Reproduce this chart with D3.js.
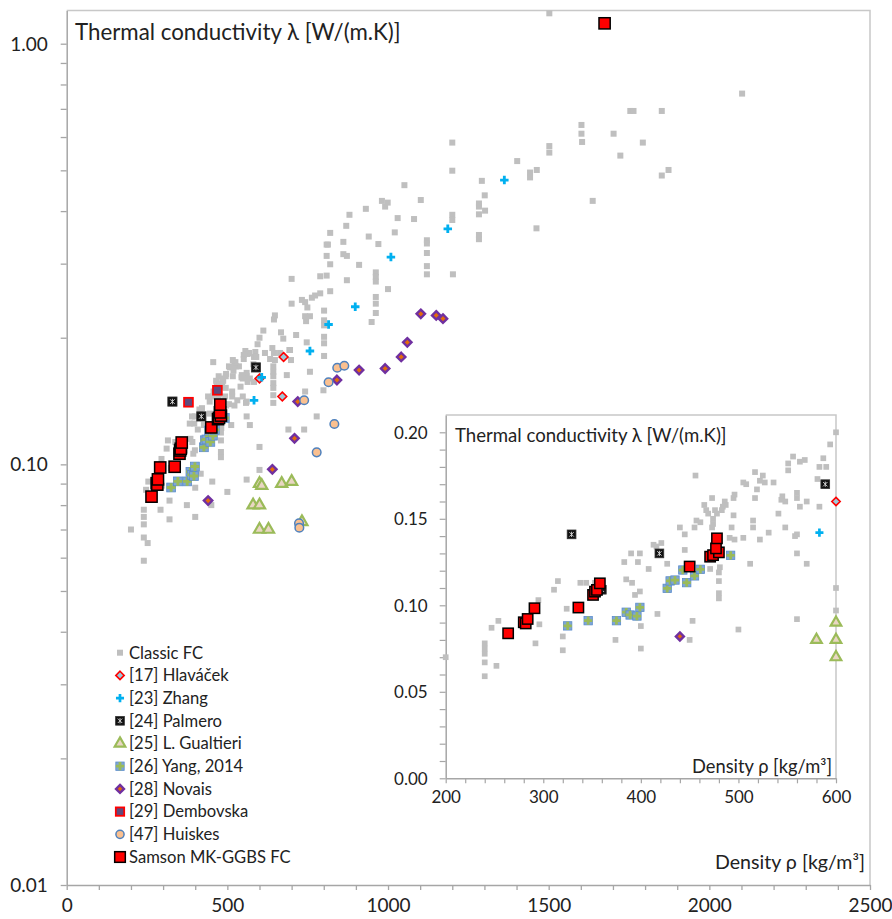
<!DOCTYPE html>
<html><head><meta charset="utf-8">
<script src="https://cdn.jsdelivr.net/npm/d3@7/dist/d3.min.js"></script>
<style>
html,body{margin:0;padding:0;background:#fff;}
svg{display:block;font-family:Lato,"Open Sans",sans-serif;}
</style></head>
<body>
<script>
// ---------------- DATA ----------------
const classicFC = [
[600,0.200],[594,0.193],[587,0.185],[583,0.180],[590,0.180],[581,0.173],[583,0.157],[570,0.160],[560,0.165],[560,0.162],
[563,0.157],[568,0.184],[563,0.183],[556,0.186],[551,0.182],[551,0.178],[545,0.163],[544,0.161],[548,0.160],[541,0.153],
[536,0.171],[527,0.171],[522,0.172],[525,0.175],[517,0.177],[505,0.171],[508,0.170],[456,0.175],[519,0.167],[517,0.162],
[495,0.162],[496,0.164],[486,0.160],[487,0.158],[483,0.155],[484,0.157],[495,0.152],[473,0.162],[465,0.158],[467,0.155],
[469,0.153],[474,0.150],[476,0.155],[478,0.153],[457,0.149],[461,0.148],[493,0.145],[505,0.139],[473,0.145],[474,0.147],
[455,0.145],[440,0.145],[445,0.141],[445,0.132],[491,0.139],[496,0.138],[548,0.145],[558,0.140],[560,0.141],[560,0.130],
[570,0.124],[512,0.124],[522,0.138],[531,0.142],[515,0.149],[515,0.145],[421,0.136],[413,0.135],[416,0.134],[390,0.130],
[399,0.130],[383,0.125],[397,0.125],[408,0.121],[427,0.124],[471,0.121],[481,0.122],[480,0.119],[480,0.114],[480,0.107],
[480,0.104],[385,0.115],[391,0.113],[338,0.113],[344,0.113],[353,0.113],[315,0.114],[311,0.109],[295,0.103],[324,0.098],
[394,0.106],[399,0.108],[417,0.095],[400,0.088],[453,0.091],[374,0.080],[400,0.075],[450,0.080],[320,0.082],[320,0.074],
[292,0.078],[296,0.089],[254,0.091],[247,0.087],[240,0.078],[240,0.075],[240,0.072],[240,0.067],[240,0.059],[252,0.065],
[200,0.070],[600,0.110],[600,0.097],[560,0.092],[500,0.086],
[612,0.208],[640,0.189],[645,0.184],[693,0.187],[617,0.184],[633,0.178],[664,0.184],[695,0.187],[698,0.177],[648,0.177],
[643,0.171],[643,0.166],[643,0.162],[643,0.156],[643,0.152],[643,0.146],[643,0.140],[685,0.163],[757,0.166],[742,0.149],
[799,0.150],[778,0.130],[690,0.121],[739,0.121],
[648,0.226],[645,0.221],[667,0.206],[674,0.199],[714,0.203],[742,0.225],[757,0.225],[745,0.219],[747,0.195],[801,0.232],
[801,0.220],[801,0.214],[801,0.201],[801,0.194],[801,0.181],[749,0.236],[949,0.218],
[700,0.276],[700,0.241],[732,0.246],[742,0.243],[763,0.249],[773,0.252],[789,0.255],[820,0.258],[789,0.280],[809,0.281],
[872,0.274],[820,0.299],[910,0.298],[809,0.313],[861,0.316],[872,0.313],[809,0.333],[813,0.333],[861,0.338],[970,0.334],
[940,0.348],[820,0.355],[1021,0.356],[870,0.369],[880,0.392],[931,0.405],[981,0.423],[999,0.419],[991,0.410],[1030,0.385],
[1081,0.383],[1102,0.425],[1051,0.461],
[1121,0.341],[1121,0.335],[1121,0.318],[1121,0.296],[1121,0.283],[962,0.286],[962,0.279],[962,0.272],[962,0.250],[962,0.241],
[962,0.229],[1000,0.261],
[1200,0.582],[1200,0.499],[1200,0.392],[1200,0.381],[1202,0.283],[1283,0.417],[1283,0.410],[1302,0.401],[1283,0.393],[1301,0.436],
[1292,0.472],[1283,0.351],[1283,0.343],
[1402,0.526],[1442,0.494],[1442,0.481],[1463,0.501],[1462,0.364],[1502,0.571],[1502,0.551],[1502,1.181],[1602,0.641],[1602,0.611],
[1604,0.584],[1637,0.423],[1702,0.611],[1723,0.542],[1754,0.692],[1764,0.692],[1793,0.582],[1852,0.692],[1852,0.486],[1873,0.501],
[2102,0.761]
];
const hlavacek = [[600,0.160],[671,0.145],[675,0.180]];
const zhang = [[583,0.142],[607,0.161],[757,0.186],[815,0.215],[898,0.237],[1009,0.311],[1186,0.363],[1362,0.474]];
const palmero = [[329,0.141],[360,0.109],[419,0.130],[589,0.170]];
const gualtieri = [[580,0.080],[600,0.080],[600,0.090],[607,0.089],[600,0.070],[628,0.070],[669,0.090],[700,0.091],[732,0.073]];
const yang2014 = [[325,0.0881],[346,0.0911],[375,0.0911],[385,0.0960],[389,0.0944],[396,0.0938],[399,0.0988],
  [427,0.1098],[430,0.1141],[435,0.1146],[443,0.1204],[447,0.1131],[455,0.1170],[461,0.1208],[492,0.1289]];
const novais = [[1102,0.228],[1150,0.226],[1171,0.222],[1060,0.195],[1041,0.180],[991,0.169],[910,0.1675],
  [841,0.1587],[719,0.141],[709,0.1153],[640,0.0973],[440,0.0820]];
const dembovska = [[379,0.1405],[469,0.150]];
const huiskes = [[842,0.1697],[864,0.1716],[815,0.1567],[739,0.142],[833,0.1247],[778,0.1068],[723,0.0724],[724,0.0707]];
const samson = [[264,0.0838],[280,0.0902],[282,0.0895],[284,0.0921],[291,0.0983],[336,0.0987],[351,0.1060],[353,0.1079],
  [355,0.1089],[358,0.1127],[450,0.1224],[471,0.1281],[474,0.1290],[480,0.1306],[477,0.1329],[478,0.1387],[1674,1.118]];

const seriesNames = ["Classic FC","[17] Hlaváček","[23] Zhang","[24] Palmero","[25] L. Gualtieri","[26] Yang, 2014","[28] Novais","[29] Dembovska","[47] Huiskes","Samson MK-GGBS FC"];
const mainXTicks = [0,500,1000,1500,2000,2500];
const mainYTicks = [0.01,0.10,1.00];
const insetXTicks = [200,300,400,500,600];
const insetYTicks = [0.00,0.05,0.10,0.15,0.20];
const yTitle = "Thermal conductivity λ [W/(m.K)]";
const xTitle = "Density ρ [kg/m³]";

// ---------------- CHART ----------------
const W = 892, H = 919;
const svg = d3.select("body").append("svg").attr("width", W).attr("height", H);
const AX = "#a6a6a6", BORDER = "#c8c8c8", TXT = "#222";

function sym(type, size){ return d3.symbol().type(type).size(size)(); }
function diamondPath(r){ return `M0,${-r}L${r},0L0,${r}L${-r},0Z`; }
const markers = {
  classic: (g,s)=>{ g.append("rect").attr("x",-3*s).attr("y",-3*s).attr("width",6*s).attr("height",6*s).attr("fill","#bfbfbf"); },
  hlav: (g,s)=>{ g.append("path").attr("d",diamondPath(4.4*s)).attr("fill","#9cc9d9").attr("stroke","#ff0000").attr("stroke-width",1.6); },
  zhang: (g,s)=>{ g.append("path").attr("d",sym(d3.symbolCross,40*s*s)).attr("fill","#00b0f0"); },
  palmero: (g,s)=>{
    const r=4.6*s;
    g.append("rect").attr("x",-r).attr("y",-r).attr("width",2*r).attr("height",2*r).attr("fill","#111").attr("stroke","#333").attr("stroke-width",0.8);
    const a=2.3*s;
    g.append("path").attr("d",`M${-a},${-a}L${a},${a}M${-a},${a}L${a},${-a}M0,${-a*1.2}L0,${a*1.2}`)
      .attr("stroke","#ddd").attr("stroke-width",0.9);
  },
  gual: (g,s)=>{ g.append("path").attr("d",sym(d3.symbolTriangle,54*s*s)).attr("fill","#e9d6c3").attr("stroke","#9bbb59").attr("stroke-width",2.2); },
  yang: (g,s)=>{
    const r=4.4*s;
    g.append("rect").attr("x",-r).attr("y",-r).attr("width",2*r).attr("height",2*r).attr("fill","#7ea6d6").attr("stroke","#5b8ccb").attr("stroke-width",0.8);
    g.append("path").attr("d",sym(d3.symbolCross,42*s*s)).attr("fill","#9bbb59");
  },
  novais: (g,s)=>{ g.append("path").attr("d",diamondPath(4.2*s)).attr("fill","#e46c0a").attr("stroke","#7030a0").attr("stroke-width",2.4); },
  demb: (g,s)=>{ const r=4.4*s; g.append("rect").attr("x",-r).attr("y",-r).attr("width",2*r).attr("height",2*r).attr("fill","#604a7b").attr("stroke","#ff0000").attr("stroke-width",1.8); },
  huis: (g,s)=>{ g.append("circle").attr("r",4.3*s).attr("fill","#fac090").attr("stroke","#4f81bd").attr("stroke-width",1.5); },
  samson: (g,s)=>{ const r=5.6*s; g.append("rect").attr("x",-r).attr("y",-r).attr("width",2*r).attr("height",2*r).attr("fill","#ff0000").attr("stroke","#000").attr("stroke-width",1.5); }
};
const series = [
  {name:seriesNames[0], data:classicFC, m:"classic", inset:true},
  {name:seriesNames[1], data:hlavacek, m:"hlav", inset:true},
  {name:seriesNames[2], data:zhang, m:"zhang", inset:true},
  {name:seriesNames[3], data:palmero, m:"palmero", inset:true},
  {name:seriesNames[4], data:gualtieri, m:"gual", inset:true},
  {name:seriesNames[5], data:yang2014, m:"yang", inset:true},
  {name:seriesNames[6], data:novais, m:"novais", inset:true},
  {name:seriesNames[7], data:dembovska, m:"demb", inset:false},
  {name:seriesNames[8], data:huiskes, m:"huis", inset:false},
  {name:seriesNames[9], data:samson, m:"samson", inset:true}
];

// ---- main chart ----
const x = d3.scaleLinear().domain([0,2500]).range([66.7,870]);
const y = d3.scaleLog().domain([0.01,1.2]).range([885,10.4]);

svg.append("path").attr("d",`M${x(0)},${y(1.2)}H${x(2500)}V${y(0.01)}`).attr("fill","none").attr("stroke",BORDER).attr("stroke-width",1.5);

const yTickVals = [];
[0.01,0.1].forEach(b=>{ for(let k=1;k<=9;k++) yTickVals.push(+(b*k).toPrecision(3)); });
yTickVals.push(1);
const yAxis = svg.append("g").attr("transform",`translate(${x(0)},0)`)
  .call(d3.axisLeft(y).tickValues(yTickVals).tickSize(6).tickSizeOuter(0)
    .tickFormat(v=> mainYTicks.some(t=>Math.abs(t-v)<1e-9) ? d3.format(".2f")(v) : ""));
const xTickVals = d3.range(0,2501,100);
const xAxis = svg.append("g").attr("transform",`translate(0,${y(0.01)})`)
  .call(d3.axisBottom(x).tickValues(xTickVals).tickSize(5).tickSizeOuter(0)
    .tickFormat(v=> mainXTicks.includes(v) ? String(v) : ""));
[yAxis,xAxis].forEach(a=>{
  a.select(".domain").attr("stroke",AX).attr("stroke-width",1.5);
  a.selectAll(".tick line").attr("stroke",AX).attr("stroke-width",1.3);
  a.selectAll("text").attr("fill",TXT).style("font-size","19px").style("font-family","Lato, sans-serif");
});
yAxis.selectAll("text").attr("x",-19).attr("dy","0.34em");
xAxis.selectAll("text").attr("y",14).attr("dy","0.71em");

svg.append("text").attr("x",75).attr("y",40).attr("fill",TXT).style("font-size","22.3px").text(yTitle);
svg.append("text").attr("x",865).attr("y",869).attr("text-anchor","end").attr("fill",TXT).style("font-size","19.6px").text(xTitle);

series.forEach(s=>{
  const g = svg.append("g");
  s.data.forEach(([d,l])=>{
    const mg = g.append("g").attr("transform",`translate(${x(d)},${y(l)})`);
    markers[s.m](mg, 1);
  });
});

// legend
const leg = svg.append("g");
series.forEach((s,i)=>{
  const cy = 652.7 + i*22.7;
  const mg = leg.append("g").attr("transform",`translate(120,${cy})`);
  markers[s.m](mg, s.m==="classic"?1:0.95);
  leg.append("text").attr("x",129).attr("y",cy).attr("dy","0.35em").attr("fill",TXT).style("font-size","16.6px").text(s.name);
});

// ---- inset ----
svg.append("rect").attr("x",392).attr("y",406).attr("width",474).attr("height",412).attr("fill","#fff");
const xi = d3.scaleLinear().domain([200,600]).range([445.7,836]);
const yi = d3.scaleLinear().domain([0,0.21]).range([778.3,415]);
svg.append("path").attr("d",`M${xi(200)},${yi(0.21)}H${xi(600)}V${yi(0)}`).attr("fill","none").attr("stroke",BORDER).attr("stroke-width",1.5);
const yiAxis = svg.append("g").attr("transform",`translate(${xi(200)},0)`)
  .call(d3.axisLeft(yi).tickValues(d3.range(0,21).map(k=>k/100)).tickSize(6).tickSizeOuter(0)
    .tickFormat(v=> insetYTicks.some(t=>Math.abs(t-v)<1e-9) ? d3.format(".2f")(v) : ""));
const xiAxis = svg.append("g").attr("transform",`translate(0,${yi(0)})`)
  .call(d3.axisBottom(xi).tickValues(d3.range(200,601,20)).tickSize(5).tickSizeOuter(0)
    .tickFormat(v=> insetXTicks.includes(v) ? String(v) : ""));
[yiAxis,xiAxis].forEach(a=>{
  a.select(".domain").attr("stroke",AX).attr("stroke-width",1.5);
  a.selectAll(".tick line").attr("stroke",AX).attr("stroke-width",1.2);
  a.selectAll("text").attr("fill",TXT).style("font-size","17px").style("font-family","Lato, sans-serif");
});
yiAxis.selectAll("text").attr("x",-18).attr("dy","0.34em");
xiAxis.selectAll("text").attr("y",13).attr("dy","0.71em");
svg.append("text").attr("x",455).attr("y",442).attr("fill",TXT).style("font-size","18.6px").text(yTitle);
svg.append("text").attr("x",832).attr("y",773).attr("text-anchor","end").attr("fill",TXT).style("font-size","18.3px").text(xTitle);

series.filter(s=>s.inset).forEach(s=>{
  const g = svg.append("g");
  s.data.filter(([d,l])=>d>=200&&d<=600&&l<=0.21).forEach(([d,l])=>{
    const mg = g.append("g").attr("transform",`translate(${xi(d)},${yi(l)})`);
    markers[s.m](mg, s.m==="samson"?0.92:0.95);
  });
});
</script>
</body></html>
